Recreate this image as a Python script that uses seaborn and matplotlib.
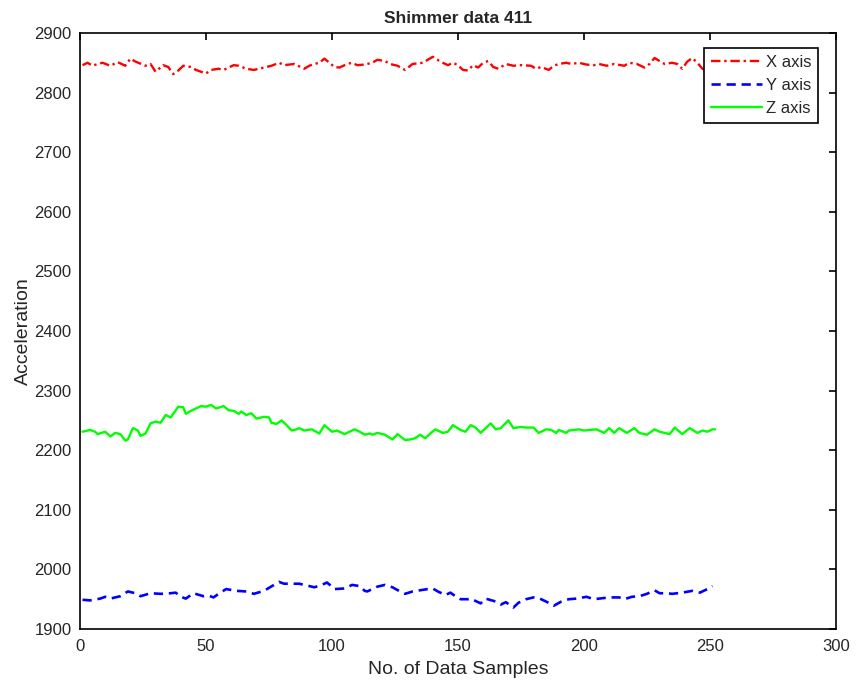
import matplotlib
matplotlib.use("Agg")
import matplotlib.pyplot as plt
import seaborn as sns
import pandas as pd

# ---- data ----
x_samples = [1,3,5,7,9,12,15,18,20,22,26,28,30,33,35,37,39,41,44,46,50,52,55,57,61,63,66,69,73,76,79,81,85,89,91,93,95,97,99,101,103,106,108,110,113,116,118,121,123,126,129,132,136,138,140,143,146,148,150,152,154,156,158,160,162,164,166,169,172,175,179,181,183,186,188,190,193,195,198,201,204,206,209,212,216,218,221,224,226,228,230,232,235,237,239,241,243,245,247,250,252]
x_values = [2846,2850,2845,2848,2850,2845,2851,2845,2857,2852,2845,2848,2835,2846,2843,2831,2837,2845,2843,2838,2832,2838,2840,2838,2846,2845,2840,2838,2842,2845,2850,2846,2848,2840,2845,2848,2850,2857,2850,2843,2842,2848,2850,2846,2847,2850,2855,2853,2848,2845,2838,2848,2850,2855,2860,2852,2846,2850,2846,2838,2837,2846,2842,2850,2853,2843,2840,2848,2845,2846,2845,2840,2843,2838,2845,2848,2850,2848,2850,2847,2846,2848,2845,2848,2845,2850,2848,2842,2848,2858,2853,2848,2850,2848,2840,2852,2858,2850,2840,2836,2838]

y_samples = [1,4,8,10,12,16,19,22,24,28,32,36,38,40,42,45,49,51,53,55,58,62,66,69,73,77,79,81,84,87,91,93,96,98,100,101,105,108,111,113,114,118,121,124,127,129,132,135,138,140,142,145,147,149,151,154,155,159,161,165,167,169,172,174,177,180,182,185,188,191,194,197,201,204,206,210,214,216,219,222,225,228,230,233,235,239,243,246,249,251]
y_values = [1949,1948,1951,1954,1951,1955,1963,1960,1955,1960,1959,1960,1961,1954,1951,1960,1955,1956,1953,1959,1967,1964,1963,1959,1964,1974,1979,1976,1976,1976,1972,1970,1974,1978,1971,1967,1968,1974,1972,1964,1963,1971,1974,1970,1963,1959,1963,1965,1967,1968,1963,1957,1961,1955,1950,1950,1951,1943,1951,1946,1941,1945,1936,1944,1950,1953,1952,1946,1939,1946,1950,1951,1954,1950,1951,1953,1953,1950,1954,1955,1959,1965,1960,1960,1959,1961,1964,1961,1967,1972]

z_samples = [1,4,6,7,10,12,14,16,18,19,21,23,24,26,28,30,32,34,36,38,39,41,42,44,46,48,50,52,54,57,59,61,63,64,66,68,70,73,75,76,78,80,82,84,86,87,89,92,95,97,100,102,105,106,109,111,113,115,116,118,121,124,126,129,131,133,135,137,139,141,144,146,148,151,153,155,157,159,163,165,167,170,172,175,177,180,182,185,187,189,190,193,194,198,200,205,208,210,212,214,217,220,222,225,228,230,234,236,239,242,245,247,249,251,252]
z_values = [2231,2234,2231,2227,2231,2223,2229,2227,2216,2218,2237,2233,2224,2228,2245,2248,2246,2259,2255,2267,2273,2272,2261,2266,2270,2274,2273,2276,2270,2274,2267,2266,2261,2265,2259,2262,2253,2256,2255,2246,2244,2250,2242,2233,2235,2237,2233,2235,2228,2242,2231,2233,2227,2229,2235,2231,2226,2228,2226,2229,2226,2218,2227,2217,2218,2220,2226,2220,2228,2235,2229,2231,2242,2234,2231,2242,2238,2229,2245,2235,2237,2250,2237,2239,2238,2238,2229,2235,2234,2229,2234,2229,2233,2235,2233,2235,2229,2237,2229,2237,2229,2237,2229,2226,2235,2231,2227,2238,2227,2237,2229,2233,2231,2235,2235]

x_ticks = [0, 50, 100, 150, 200, 250, 300]
y_ticks = [1900, 2000, 2100, 2200, 2300, 2400, 2500, 2600, 2700, 2800, 2900]

sns.set_style("white")
plt.rcParams['font.family'] = ['Liberation Sans', 'DejaVu Sans']
plt.rcParams['xtick.direction'] = 'in'
plt.rcParams['ytick.direction'] = 'in'

fig = plt.figure(figsize=(8.61, 6.8), dpi=100)
ax = fig.add_axes([0.0929, 0.075, 0.878, 0.8765])

dfx = pd.DataFrame({"s": x_samples, "v": x_values})
dfy = pd.DataFrame({"s": y_samples, "v": y_values})
dfz = pd.DataFrame({"s": z_samples, "v": z_values})

sns.lineplot(data=dfx, x="s", y="v", ax=ax, color=(1, 0, 0), lw=1.7, label="X axis")
sns.lineplot(data=dfy, x="s", y="v", ax=ax, color=(0, 0, 1), lw=1.9, label="Y axis")
sns.lineplot(data=dfz, x="s", y="v", ax=ax, color=(0, 1, 0), lw=1.7, label="Z axis")
lines = ax.get_lines()
lines[0].set_linestyle((0, (4, 1.6, 1, 1.6)))
lines[1].set_linestyle((0, (3.5, 2.2)))
lines[2].set_linestyle('-')

ax.set_xlim(0, 300)
ax.set_ylim(1900, 2900)
ax.set_xticks(x_ticks)
ax.set_yticks(y_ticks)
ax.tick_params(axis='both', which='both', labelsize=12, length=5, width=1.2,
               top=True, right=True, color='black', labelcolor='#262626')
ax.tick_params(axis='x', pad=7)
ax.tick_params(axis='y', pad=6)
for sp in ax.spines.values():
    sp.set_visible(True)
    sp.set_color('black')
    sp.set_linewidth(1.2)

ax.set_xlabel("No. of Data Samples", fontsize=14, color='#262626', labelpad=5)
ax.set_ylabel("Acceleration", fontsize=14, color='#262626', labelpad=2)
ax.set_title("Shimmer data 411", fontsize=12.5, fontweight='bold', pad=7)

leg = ax.legend(loc='upper right', bbox_to_anchor=(0.976, 0.975), fontsize=12, frameon=True,
                fancybox=False, edgecolor='black', framealpha=1, borderpad=0.4,
                handlelength=3.1, handletextpad=0.2, labelspacing=0.5, borderaxespad=0)
leg.get_frame().set_linewidth(1.2)

fig.savefig("out.png", dpi=100)
